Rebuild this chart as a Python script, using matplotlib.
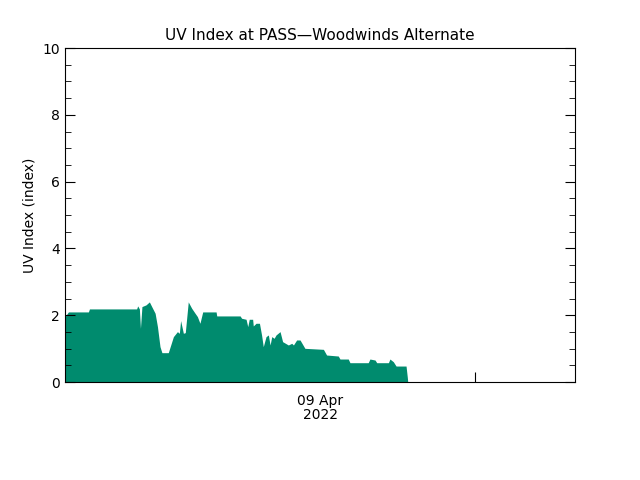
import matplotlib
matplotlib.use('Agg')
import matplotlib.pyplot as plt
from matplotlib.ticker import MultipleLocator

# hours since start of plot window, UV index
hours = [0.00, 0.16, 1.10, 1.15, 3.37, 3.42, 3.50, 3.55, 3.62, 3.81, 3.97, 4.08,
         4.24, 4.35, 4.47, 4.56, 4.86, 5.10, 5.29, 5.38, 5.44, 5.57, 5.66, 5.80,
         5.96, 6.12, 6.23, 6.35, 6.48, 7.11, 7.14, 8.24, 8.31, 8.52, 8.60, 8.67,
         8.83, 8.86, 8.99, 9.15, 9.25, 9.33, 9.46, 9.57, 9.65, 9.73, 9.84, 9.93,
         10.12, 10.24, 10.51, 10.67, 10.75, 10.90, 11.06, 11.29, 12.16, 12.31,
         12.86, 12.94, 13.33, 13.41, 14.27, 14.35, 14.59, 14.67, 15.22, 15.29,
         15.45, 15.58, 16.05, 16.11, 16.13]
uv = [1.96, 2.10, 2.10, 2.19, 2.19, 2.28, 2.19, 1.61, 2.26, 2.31, 2.40, 2.26,
      2.06, 1.66, 1.06, 0.88, 0.88, 1.36, 1.51, 1.46, 1.84, 1.46, 1.48, 2.40,
      2.21, 2.06, 1.96, 1.76, 2.10, 2.10, 1.98, 1.98, 1.91, 1.88, 1.66, 1.88,
      1.88, 1.68, 1.76, 1.76, 1.41, 1.06, 1.36, 1.41, 1.11, 1.36, 1.31, 1.41,
      1.51, 1.21, 1.11, 1.16, 1.11, 1.26, 1.26, 1.01, 0.98, 0.81, 0.78, 0.69,
      0.69, 0.58, 0.58, 0.69, 0.66, 0.58, 0.58, 0.69, 0.61, 0.48, 0.48, 0.14, 0.0]

fig = plt.figure(figsize=(6.4, 4.8), dpi=100)
ax = fig.add_axes([0.1016, 0.204, 0.7968, 0.696])
ax.fill_between(hours, uv, 0, color='#008b6e', linewidth=0)
ax.set_xlim(0, 24)
ax.set_ylim(0, 10)
ax.yaxis.set_major_locator(MultipleLocator(2))
ax.yaxis.set_minor_locator(MultipleLocator(0.5))
ax.tick_params(axis='y', which='both', direction='in', right=True, labelsize=10)
ax.tick_params(axis='y', which='major', length=7)
ax.tick_params(axis='y', which='minor', length=4)
ax.set_xticks([19.3])
ax.set_xticklabels([''])
ax.tick_params(axis='x', direction='in', length=7)
ax.text(12.0, -0.35, '09 Apr\n2022', ha='center', va='top', fontsize=10,
        transform=ax.transData, linespacing=1.0)
ax.set_ylabel('UV Index (index)', fontsize=10)
ax.set_title('UV Index at PASS\u2014Woodwinds Alternate', fontsize=11)
fig.savefig('out.png', dpi=100)
